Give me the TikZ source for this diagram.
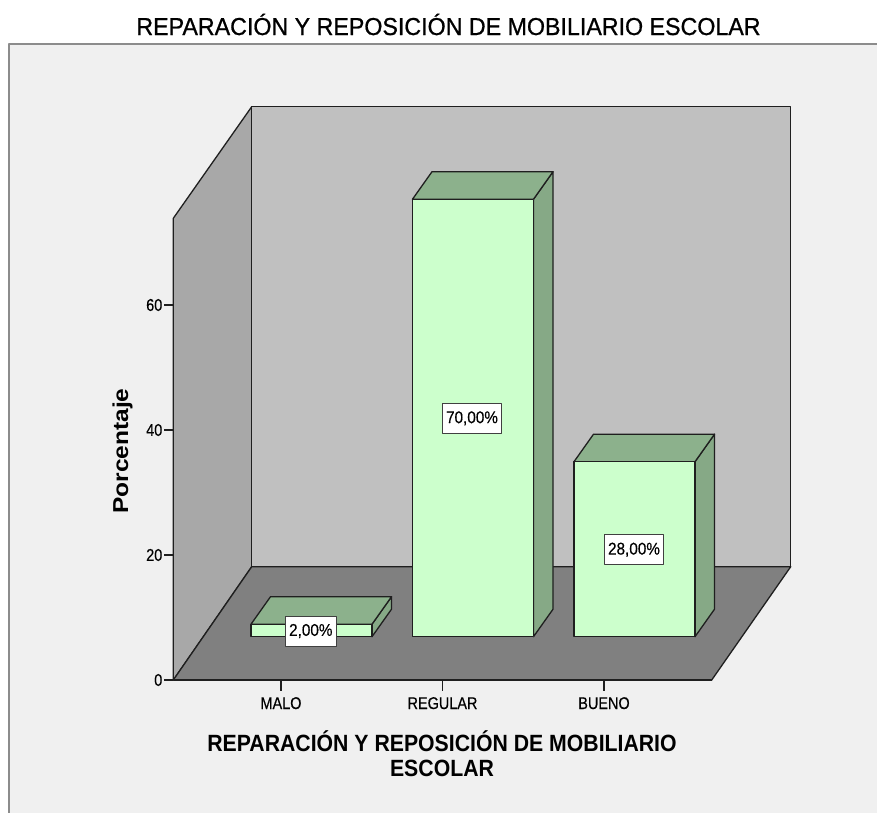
\documentclass[tikz,border=0pt]{standalone}
\usepackage{fontspec}
\setmainfont{Liberation Sans}
\newfontfamily\heavy[FakeBold=0.8]{Liberation Sans}
\newfontfamily\semiheavy[FakeBold=0.4]{Liberation Sans}
\usepackage{graphicx}
\definecolor{framebg}{HTML}{F0F0F0}
\definecolor{framelc}{HTML}{8C8C8C}
\definecolor{leftwall}{HTML}{A8A8A8}
\definecolor{backwall}{HTML}{C0C0C0}
\definecolor{floorc}{HTML}{808080}
\definecolor{barfront}{HTML}{CCFFCC}
\definecolor{bartop}{HTML}{8CB18C}
\definecolor{barside}{HTML}{86A986}
\newcommand\hsq[2]{\scalebox{#1}[1]{#2}}
\newcommand\mybar[2]{%
  \filldraw[edge,fill=barside] (#1+121,636.7) -- (#1+140.5,609.2) -- (#1+140.5,#2-27.5) -- (#1+121,#2) -- cycle;
  \filldraw[edge,fill=bartop] (#1,#2) -- (#1+19.5,#2-27.5) -- (#1+140.5,#2-27.5) -- (#1+121,#2) -- cycle;
  \filldraw[edge,fill=barfront] (#1,#2) rectangle (#1+121,636.7);
}
\begin{document}
\begin{tikzpicture}[x=1pt,y=-1pt,line join=round,
  edge/.style={draw=black!88,line width=1.3pt},
  ticklab/.style={inner sep=0pt,font=\semiheavy\fontsize{17}{17}\selectfont},
  valbox/.style={draw=black!75,line width=1pt,fill=white,inner xsep=3.6pt,inner ysep=0pt,
    minimum height=30pt,font=\semiheavy\fontsize{17}{17}\selectfont}]
\useasboundingbox (0,0) rectangle (877,812);
\fill[white] (0,0) rectangle (877,812);
% frame
\filldraw[fill=framebg,draw=framelc,line width=1.6pt] (9,44) rectangle (885,820);
% title
\node[inner sep=0pt,anchor=base,font=\heavy\fontsize{24.5}{24.5}\selectfont] (title) at (448.5,35)
  {\hsq{0.948}{REPARACIÓN Y REPOSICIÓN DE MOBILIARIO ESCOLAR}};
% walls and floor
\filldraw[edge,fill=leftwall] (173.3,680) -- (173.3,218.3) -- (251.7,106.7) -- (251.7,566.7) -- cycle;
\filldraw[edge,fill=backwall] (251.7,106.7) rectangle (790.7,566.7);
\filldraw[edge,fill=floorc] (173.3,680) -- (711.7,680) -- (790.7,566.7) -- (251.7,566.7) -- cycle;
\draw[edge] (173.3,218.3) -- (173.3,680) -- (711.7,680);
% y ticks
\foreach \v/\yy in {0/680,20/555,40/430,60/305}{
  \draw[edge] (164,\yy) -- (173.3,\yy);
  \node[ticklab,anchor=east] (y\v) at (162.5,\yy) {\hsq{0.85}{\v}};
}
% category ticks and labels
\foreach \nm/\xx in {MALO/281,REGULAR/442.5,BUENO/604}{
  \draw[edge] (\xx,680) -- (\xx,690.5);
  \node[ticklab,anchor=base] (c\nm) at (\xx,709) {\hsq{0.85}{\nm}};
}
% bars
\mybar{251}{624.2}
\mybar{412.5}{199.2}
\mybar{574}{461.7}
% value labels
\node[valbox] (vmalo) at (310.8,631) {\hsq{0.9}{2,00\%}};
\node[valbox] (vregular) at (472,418.3) {\hsq{0.9}{70,00\%}};
\node[valbox] (vbueno) at (634,549.7) {\hsq{0.9}{28,00\%}};
% axis titles
\node[inner sep=0pt,rotate=90,font=\bfseries\fontsize{24.5}{24.5}\selectfont] (ytitle) at (122.5,451)
  {\scalebox{1}[0.88]{Porcentaje}};
\node[inner sep=0pt,anchor=base,font=\bfseries\fontsize{23.5}{23.5}\selectfont] (xtitle1) at (442,751)
  {\hsq{0.904}{REPARACIÓN Y REPOSICIÓN DE MOBILIARIO}};
\node[inner sep=0pt,anchor=base,font=\bfseries\fontsize{23.5}{23.5}\selectfont] (xtitle2) at (442,776)
  {\hsq{0.904}{ESCOLAR}};
\end{tikzpicture}
\end{document}
